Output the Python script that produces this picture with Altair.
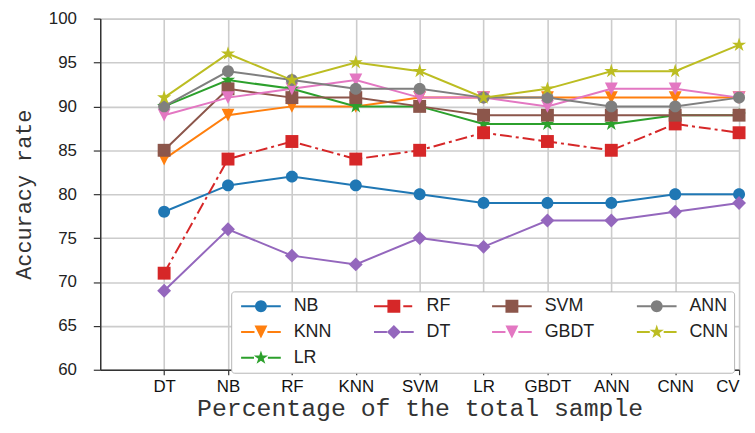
import math
import altair as alt
import pandas as pd

categories = ["DT", "NB", "RF", "KNN", "SVM", "LR", "GBDT", "ANN", "CNN", "CV"]

series_names = ["NB", "KNN", "LR", "RF", "DT", "SVM", "GBDT", "ANN", "CNN"]
NB = [78, 81, 82, 81, 80, 79, 79, 79, 80, 80]
KNN = [84, 89, 90, 90, 91, 91, 91, 91, 91, 91]
LR = [90, 93, 92, 90, 90, 88, 88, 88, 89, 89]
RF = [71, 84, 86, 84, 85, 87, 86, 85, 88, 87]
DT = [69, 76, 73, 72, 75, 74, 77, 77, 78, 79]
SVM = [85, 92, 91, 91, 90, 89, 89, 89, 89, 89]
GBDT = [89, 91, 92, 93, 91, 91, 90, 92, 92, 91]
ANN = [90, 94, 93, 92, 92, 91, 91, 90, 90, 91]
CNN = [91, 96, 93, 95, 94, 91, 92, 94, 94, 97]
values = [NB, KNN, LR, RF, DT, SVM, GBDT, ANN, CNN]

colors = ["#1f77b4", "#ff7f0e", "#2ca02c", "#d62728", "#9467bd",
          "#8c564b", "#e377c2", "#7f7f7f", "#bcbd22"]
markers = ["circle", "tri_down", "star", "square", "diamond",
           "square", "tri_down", "circle", "star"]

# legend order, read row by row (4 columns)
legend_order = ["NB", "RF", "SVM", "ANN", "KNN", "DT", "GBDT", "CNN", "LR"]

# ---------- marker paths (style only) ----------
SIZE = 100
K = math.sqrt(SIZE) / 2.0  # px per path unit in Vega custom symbols


def poly(pts):
    return "M" + "L".join("%.3f,%.3f" % (x / K, y / K) for x, y in pts) + "Z"


def marker_pts(kind):
    if kind == "circle":
        r = 6.0
        return [(r * math.cos(2 * math.pi * i / 32), r * math.sin(2 * math.pi * i / 32)) for i in range(32)]
    if kind == "square":
        h = 6.5
        return [(-h, -h), (h, -h), (h, h), (-h, h)]
    if kind == "diamond":
        h = 7.0
        return [(0, -h), (h, 0), (0, h), (-h, 0)]
    if kind == "tri_down":
        h = 6.5
        return [(-h, -h), (h, -h), (0, h)]
    if kind == "star":
        R, r = 7.5, 7.5 * 0.382
        pts = []
        for i in range(10):
            a = -math.pi / 2 + i * math.pi / 5
            rad = R if i % 2 == 0 else r
            pts.append((rad * math.cos(a), rad * math.sin(a)))
        return pts


def half_width(kind):
    return {"circle": 6.0, "square": 6.5, "diamond": 7.0, "tri_down": 6.5, "star": 7.0}[kind]


def rect(x0, x1, t=1.0):
    return [(x0, -t), (x1, -t), (x1, t), (x0, t)]


def legend_path(kind, dashed):
    hw = half_width(kind)
    p = poly(marker_pts(kind)) + poly(rect(-20, -hw))
    if dashed:
        p += poly(rect(hw + 3, hw + 12))
    else:
        p += poly(rect(hw, 20))
    return p


idx = {n: i for i, n in enumerate(series_names)}
plot_shapes = [poly(marker_pts(markers[idx[n]])) for n in legend_order]
leg_shapes = [legend_path(markers[idx[n]], n == "RF") for n in legend_order]
leg_colors = [colors[idx[n]] for n in legend_order]

rows = []
for si, (name, vals) in enumerate(zip(series_names, values)):
    for ci, v in enumerate(vals):
        rows.append({"series": name, "order": si, "xi": ci, "acc": v})
df = pd.DataFrame(rows)

label_expr = "[" + ",".join("'%s'" % c for c in categories) + "][datum.value]"

x_enc = alt.X("xi:Q", scale=alt.Scale(domain=[-1, 9], nice=False, zero=False),
              axis=alt.Axis(values=list(range(10)), labelExpr=label_expr,
                            title="Percentage of the total sample",
                            titleFont="Liberation Mono", titleFontSize=25,
                            titleFontWeight="normal", titleColor="#333",
                            titlePadding=1,
                            labelFont="Liberation Sans", labelFontSize=17,
                            labelColor="#111", labelPadding=4,
                            tickSize=5, tickColor="#333", tickWidth=1.2,
                            grid=True, gridColor="#cccccc", gridWidth=1.6,
                            domainColor="#333", domainWidth=1.5))
y_enc = alt.Y("acc:Q", scale=alt.Scale(domain=[60, 100], nice=False, zero=False),
              axis=alt.Axis(values=list(range(60, 101, 5)),
                            title="Accuracy rate",
                            titleFont="Liberation Mono", titleFontSize=22,
                            titleFontWeight="normal", titleColor="#333",
                            titlePadding=13,
                            labelFont="Liberation Sans", labelFontSize=17,
                            labelColor="#222", labelPadding=17,
                            tickSize=7, tickColor="#333", tickWidth=1.2,
                            grid=True, gridColor="#cccccc", gridWidth=1.6,
                            domainColor="#333", domainWidth=1.5))

color_scale = alt.Scale(domain=legend_order, range=leg_colors)
shape_scale = alt.Scale(domain=legend_order, range=plot_shapes)
leg_shape_scale = alt.Scale(domain=legend_order, range=leg_shapes)

legend = alt.Legend(orient="none", legendX=132, legendY=275, columns=4,
                    direction="horizontal",
                    title=None, labelFont="Liberation Sans", labelFontSize=18,
                    labelColor="#222", symbolSize=SIZE, symbolStrokeWidth=0,
                    symbolOffset=15, labelOffset=24,
                    columnPadding=38, rowPadding=8,
                    padding=6, strokeColor="#b5b5b5", fillColor="white",
                    cornerRadius=3, symbolOpacity=1)

base = alt.Chart(df)

solid = base.transform_filter(alt.datum.series != "RF").mark_line(strokeWidth=2).encode(
    x=x_enc, y=y_enc,
    color=alt.Color("series:N", scale=color_scale, legend=None),
    detail="series:N",
    order="xi:Q",
)
dashed = base.transform_filter(alt.datum.series == "RF").mark_line(
    strokeWidth=2, strokeDash=[12, 4, 3, 4]).encode(
    x=x_enc, y=y_enc,
    color=alt.Color("series:N", scale=color_scale, legend=None),
    order="xi:Q",
)
points = base.mark_point(filled=True, size=SIZE, opacity=1, strokeWidth=0).encode(
    x=x_enc, y=y_enc,
    color=alt.Color("series:N", scale=color_scale, legend=None),
    shape=alt.Shape("series:N", scale=shape_scale, legend=None),
)
legend_layer = base.transform_filter("datum.acc < 0").mark_point(
    filled=True, size=SIZE, opacity=1, strokeWidth=0).encode(
    x=x_enc, y=y_enc,
    color=alt.Color("series:N", scale=color_scale, legend=legend),
    shape=alt.Shape("series:N", scale=leg_shape_scale, legend=legend),
)

chart = alt.layer(solid, dashed, points, legend_layer).resolve_scale(
    color="independent", shape="independent"
).properties(
    width=644, height=354,
    padding={"left": 4, "top": 0, "right": 0, "bottom": 2},
).configure_view(stroke="#333", strokeWidth=1.5).configure(background="white")

chart.save("out.html", embed_options={"renderer": "svg", "actions": False})
